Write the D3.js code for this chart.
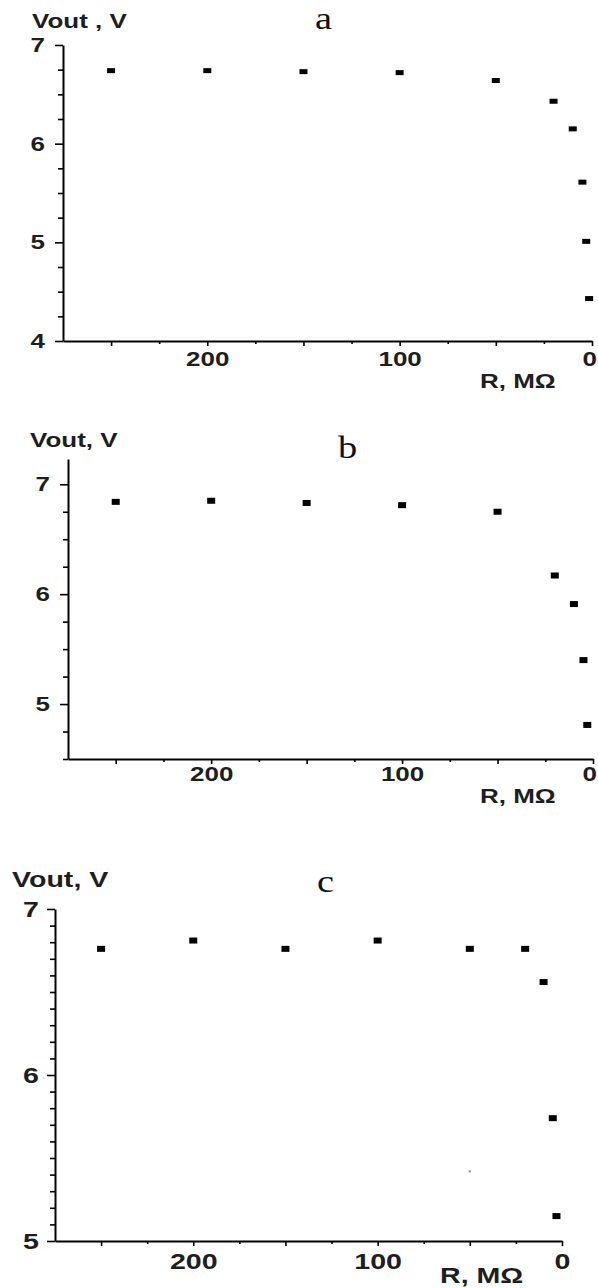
<!DOCTYPE html>
<html>
<head>
<meta charset="utf-8">
<script src="https://cdn.jsdelivr.net/npm/d3@7"></script>
<style>
  html, body { margin: 0; padding: 0; background: #fff; }
  svg { display: block; }
</style>
</head>
<body>
<svg id="chart" width="598" height="1288"></svg>
<script>
// ---------- data ----------
const rA = [250, 200, 150, 100, 50, 20, 10, 5, 3, 1.5];
const vA = [6.74, 6.74, 6.73, 6.72, 6.64, 6.43, 6.15, 5.61, 5.01, 4.43];

const rB = [250, 200, 150, 100, 50, 20, 10, 5, 3];
const vB = [6.84, 6.85, 6.83, 6.81, 6.75, 6.17, 5.91, 5.40, 4.81];

const rC = [250, 200, 150, 100, 50, 20, 10, 5, 3];
const vC = [6.76, 6.81, 6.76, 6.81, 6.76, 6.76, 6.56, 5.74, 5.15];
const rCspeck = [50];
const vCspeck = [5.42];

const xMajorTicks = [0, 50, 100, 150, 200, 250];
const xMinorTicks = [25, 75, 125, 175, 225];
const xLabelTicks = [0, 100, 200];
const yTicksA = [4, 5, 6, 7];
const yTicksB = [5, 6, 7];
const yTicksC = [5, 6, 7];

const panelLetters = ["a", "b", "c"];
const yTitles = ["Vout , V", "Vout, V", "Vout, V"];
const xTitle = "R, MΩ";

// ---------- layout ----------
const W = 598;
const svg = d3.select("#chart");
const SX = 1.3; // horizontal stretch of the text in the picture

const panels = [
  { r: rA, v: vA, yTicks: yTicksA, yDomain: [4, 7], yMinorStep: 0.25,
    xRange: [63, 592], yRange: [341, 45], fs: 20, yPad: 10, xPad: 6,
    letter: [315, 29], yTitle: [32, 28], xTitle: [480, 388], mw: 8, mh: 5 },
  { r: rB, v: vB, yTicks: yTicksB, yDomain: [4.5, 7.23], yMinorStep: 0.25,
    xRange: [68, 593], yRange: [759, 459], fs: 20, yPad: 10, xPad: 3,
    letter: [338, 458], yTitle: [30, 447], xTitle: [480, 803], mw: 8, mh: 6 },
  { r: rC, v: vC, yTicks: yTicksC, yDomain: [5, 7], yMinorStep: 0.1,
    xRange: [55, 562], yRange: [1241, 909], fs: 22, yPad: 8, xPad: 7,
    letter: [317, 892], yTitle: [12, 887], xTitle: [440, 1283], mw: 8, mh: 6,
    speck: { r: rCspeck, v: vCspeck } }
];

function stretch(sel, s) {
  sel.each(function () {
    const t = d3.select(this);
    const x = +t.attr("x") || 0;
    t.attr("x", 0).attr("transform", `translate(${x},0) scale(${s},1)`);
  });
}

function textAt(g, x, y, str, opts) {
  return g.append("text")
    .attr("transform", `translate(${x},${y}) scale(${opts.sx},1)`)
    .attr("font-family", opts.family)
    .attr("font-weight", opts.weight)
    .attr("font-size", opts.size)
    .attr("fill", opts.fill || "#1e1e1e")
    .text(str);
}

panels.forEach((p, i) => {
  const g = svg.append("g");
  const x = d3.scaleLinear().domain([275, 0]).range(p.xRange);
  const y = d3.scaleLinear().domain(p.yDomain).range(p.yRange);
  const xAxisY = p.yRange[0];
  const yAxisX = p.xRange[0];

  // y minor ticks
  const yMin = [];
  for (let k = Math.ceil(p.yDomain[0] / p.yMinorStep - 1e-9); k * p.yMinorStep <= p.yDomain[1] + 1e-9; k++) {
    const val = +(k * p.yMinorStep).toFixed(4);
    if (Math.abs(val - Math.round(val)) > 1e-6) yMin.push(val);
  }
  const gyMinor = g.append("g").attr("transform", `translate(${yAxisX},0)`)
    .call(d3.axisLeft(y).tickValues(yMin).tickSize(5).tickFormat(""));
  gyMinor.select(".domain").remove();

  // y major axis
  const gy = g.append("g").attr("transform", `translate(${yAxisX},0)`)
    .call(d3.axisLeft(y).tickValues(p.yTicks).tickSize(8).tickSizeOuter(0)
      .tickPadding(p.yPad).tickFormat(d3.format("d")));

  // x minor ticks
  const gxMinor = g.append("g").attr("transform", `translate(0,${xAxisY})`)
    .call(d3.axisBottom(x).tickValues(xMinorTicks).tickSize(3).tickFormat(""));
  gxMinor.select(".domain").remove();

  // x major axis
  const gx = g.append("g").attr("transform", `translate(0,${xAxisY})`)
    .call(d3.axisBottom(x).tickValues(xMajorTicks).tickSize(5).tickSizeOuter(0)
      .tickPadding(p.xPad).tickFormat(d => xLabelTicks.includes(d) ? d3.format("d")(d) : ""));

  [gy, gx, gyMinor, gxMinor].forEach(a => {
    a.selectAll("path.domain").attr("stroke", "#000").attr("stroke-width", 2);
    a.selectAll(".tick line").attr("stroke", "#000").attr("stroke-width", 1.6);
  });
  [gy, gx].forEach(a => {
    a.selectAll(".tick text")
      .attr("font-family", "'Liberation Sans', Arial, sans-serif")
      .attr("font-weight", "bold")
      .attr("font-size", p.fs)
      .attr("fill", "#1e1e1e")
      .call(stretch, SX);
  });

  // markers
  g.append("g").selectAll("rect").data(p.r.map((r, j) => ({ r, v: p.v[j] })))
    .join("rect")
    .attr("x", d => x(d.r) - p.mw / 2)
    .attr("y", d => y(d.v) - p.mh / 2)
    .attr("width", p.mw)
    .attr("height", p.mh)
    .attr("fill", "#000");

  if (p.speck) {
    g.append("g").selectAll("rect").data(p.speck.r.map((r, j) => ({ r, v: p.speck.v[j] })))
      .join("rect")
      .attr("x", d => x(d.r) - 1)
      .attr("y", d => y(d.v) - 1)
      .attr("width", 2).attr("height", 2)
      .attr("fill", "#8a8a8a");
  }

  // titles
  const sansB = { sx: SX, family: "'Liberation Sans', Arial, sans-serif", weight: "bold", size: p.fs };
  textAt(g, p.yTitle[0], p.yTitle[1], yTitles[i], sansB);
  textAt(g, p.xTitle[0], p.xTitle[1], xTitle, sansB);
  textAt(g, p.letter[0], p.letter[1], panelLetters[i],
    { sx: 1.2, family: "'Liberation Serif', 'Times New Roman', serif", weight: "normal", size: 32, fill: "#111" });
});

// keep every text inside the page: nudge any label that runs past the right edge
svg.selectAll("text").each(function () {
  const b = this.getBoundingClientRect();
  const over = b.right - (W - 1);
  if (over > 0) {
    const t = d3.select(this);
    const cur = +t.attr("x") || 0;
    t.attr("x", cur - over / SX);
  }
});
</script>
</body>
</html>
